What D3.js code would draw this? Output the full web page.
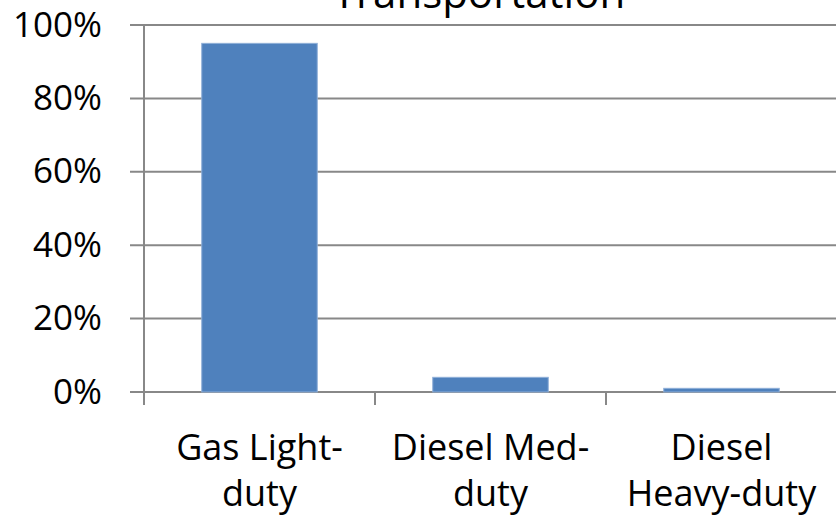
<!DOCTYPE html>
<html>
<head>
<meta charset="utf-8">
<script src="https://cdn.jsdelivr.net/npm/d3@7"></script>
<style>
  html, body { margin: 0; padding: 0; background: #fff; }
  svg { display: block; font-family: "Open Sans", "Noto Sans", sans-serif; }
</style>
</head>
<body>
<svg id="chart" width="836" height="520"></svg>
<script>
// data
const title = 'Transportation'
const categories = ['Gas Light-duty', 'Diesel Med-duty', 'Diesel Heavy-duty']
const labelLines = [['Gas Light-', 'duty'], ['Diesel Med-', 'duty'], ['Diesel', 'Heavy-duty']]
const shares = [0.95, 0.04, 0.01]
const yTicks = [0, 0.2, 0.4, 0.6, 0.8, 1]

const svg = d3.select('#chart')
const plotLeft = 144
const plotRight = 837
const plotTop = 25
const plotBottom = 392

// category slots (for tick marks) and bars inside them
const xSlot = d3.scaleBand().domain(categories).range([plotLeft, plotRight])
const x = d3.scaleBand().domain(categories).range([plotLeft, plotRight])
  .paddingInner(0.5).paddingOuter(0.25)
const y = d3.scaleLinear().domain([0, 1]).range([plotBottom, plotTop])

const gridColor = '#888'

// gridlines + y tick marks
svg.append('g')
  .selectAll('line')
  .data(yTicks)
  .join('line')
  .attr('x1', 130)
  .attr('x2', 836)
  .attr('y1', d => y(d))
  .attr('y2', d => y(d))
  .attr('stroke', gridColor)
  .attr('stroke-width', 2)

// y labels
svg.append('g')
  .selectAll('text')
  .data(yTicks)
  .join('text')
  .attr('x', 102)
  .attr('y', d => y(d) + 11.5)
  .attr('text-anchor', 'end')
  .attr('font-size', 35)
  .attr('fill', '#000')
  .text(d3.format('.0%'))

// bars
svg.append('g')
  .selectAll('rect')
  .data(shares)
  .join('rect')
  .attr('x', (d, i) => x(categories[i]))
  .attr('width', x.bandwidth())
  .attr('y', d => y(d))
  .attr('height', d => y(0) - y(d))
  .attr('fill', '#4F81BD')
  .attr('stroke', '#8FAFD8')
  .attr('stroke-width', 1)

// y axis line
svg.append('line')
  .attr('x1', plotLeft)
  .attr('x2', plotLeft)
  .attr('y1', plotTop)
  .attr('y2', plotBottom + 13)
  .attr('stroke', gridColor)
  .attr('stroke-width', 2)

// category tick marks
svg.append('g')
  .selectAll('line')
  .data(categories.slice(1))
  .join('line')
  .attr('x1', d => xSlot(d))
  .attr('x2', d => xSlot(d))
  .attr('y1', plotBottom)
  .attr('y2', plotBottom + 13)
  .attr('stroke', gridColor)
  .attr('stroke-width', 2)

// category labels
const lab = svg.append('g')
  .selectAll('text')
  .data(categories)
  .join('text')
  .attr('text-anchor', 'middle')
  .attr('font-size', 36)
  .attr('fill', '#000')

lab.selectAll('tspan')
  .data((d, i) => labelLines[i].map(t => ({ t, c: d })))
  .join('tspan')
  .attr('x', d => xSlot(d.c) + xSlot.bandwidth() / 2)
  .attr('y', (d, i) => 460 + i * 46)
  .text(d => d.t)

// title (cut off at the top like the source)
svg.append('text')
  .attr('x', 479)
  .attr('y', 8)
  .attr('text-anchor', 'middle')
  .attr('font-size', 42)
  .attr('fill', '#000')
  .text(title)
</script>
</body>
</html>
